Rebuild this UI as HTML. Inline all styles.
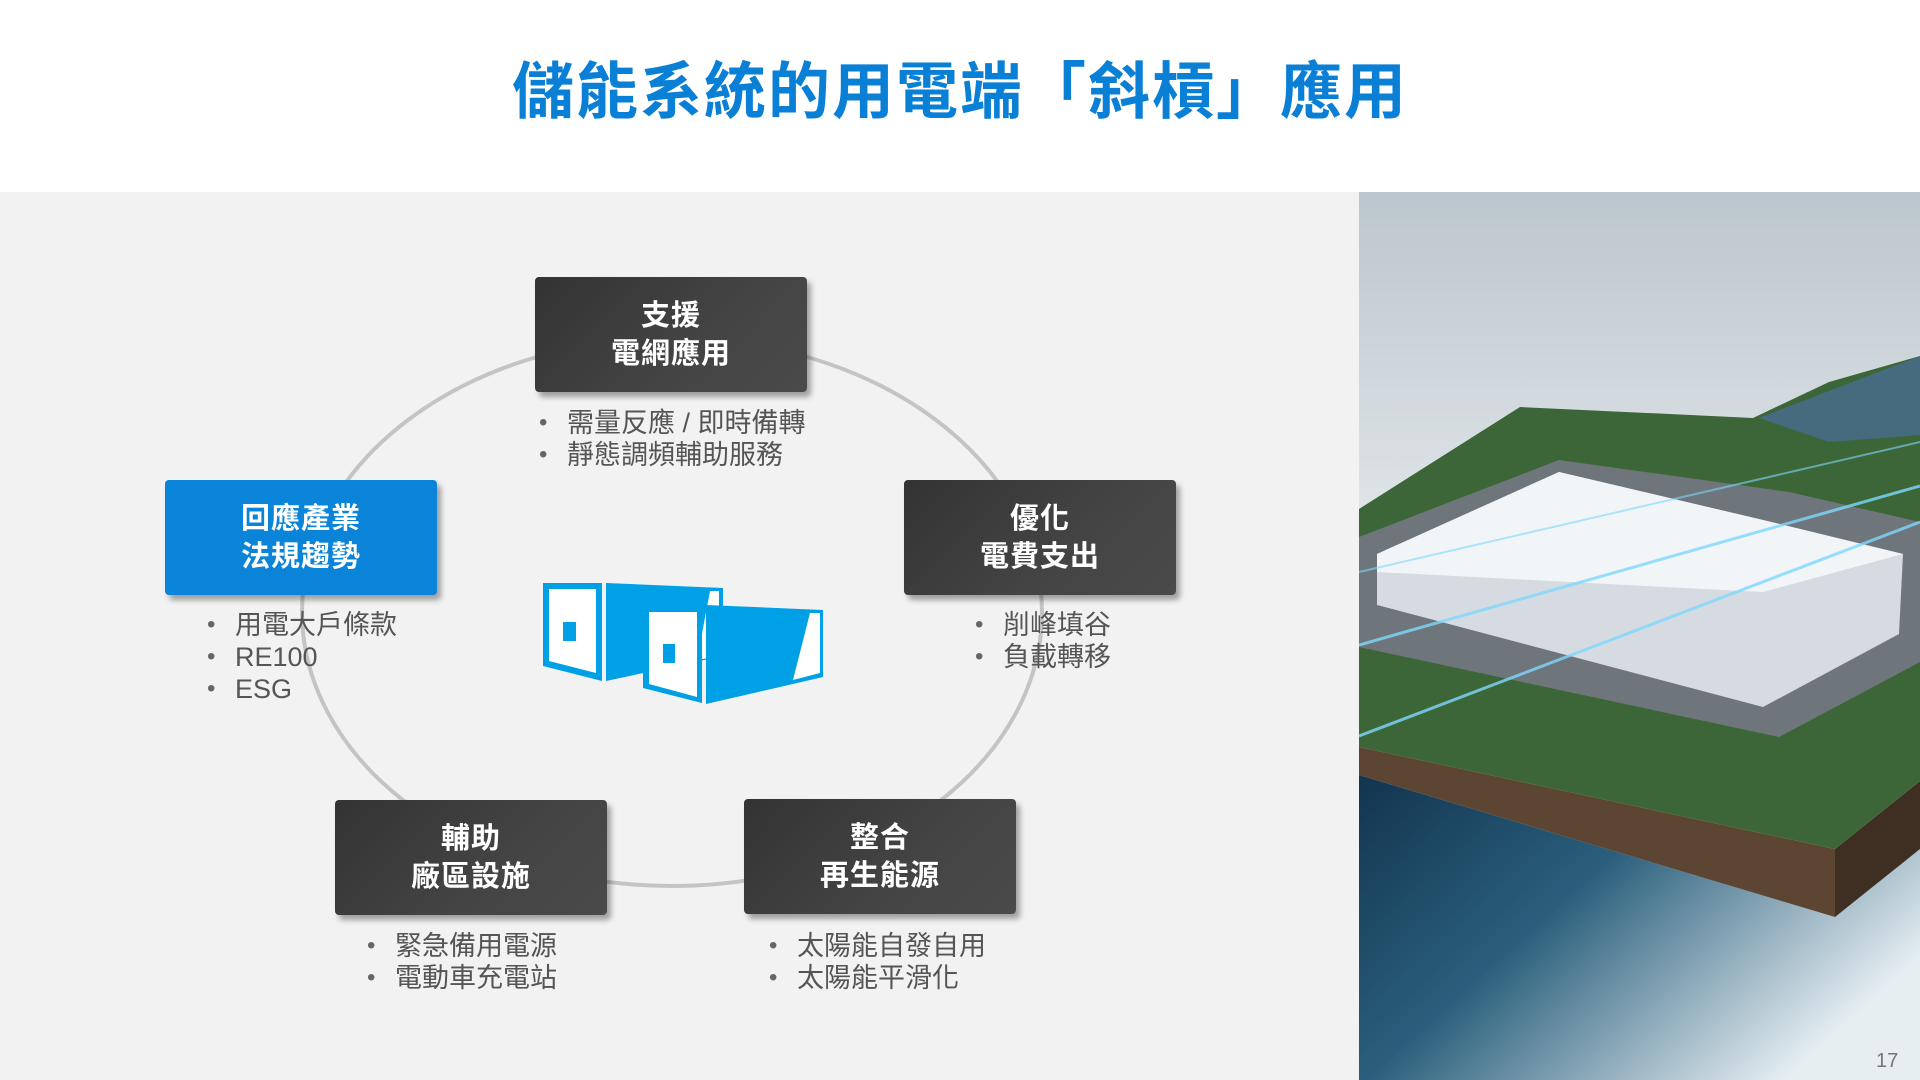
<!DOCTYPE html>
<html><head><meta charset="utf-8"><style>
body{margin:0;width:1920px;height:1080px;position:relative;overflow:hidden;background:#fff;font-family:"Liberation Sans","Noto Sans CJK TC",sans-serif}
.title{position:absolute;left:0;width:1920px;top:53px;text-align:center;font-size:62px;font-weight:bold;color:#0a7fd6;letter-spacing:2px;line-height:80px}
.panel{position:absolute;left:0;top:192px;width:1359px;height:888px;background:#f2f2f2}
.box{position:absolute;width:272px;height:115px;background:linear-gradient(135deg,#333 0%,#444 60%,#4a4a4a 100%);border-radius:4px;box-shadow:4px 5px 6px rgba(0,0,0,.35);color:#fff;font-weight:bold;font-size:29px;line-height:38px;text-align:center;display:flex;align-items:center;justify-content:center;letter-spacing:1px}
.blue{background:#0a84d9}
.ul{position:absolute;font-size:27px;color:#555;line-height:32px}
.ul div{position:relative}
.ul div:before{content:"•";position:absolute;left:-28px;color:#666;font-size:24px}
.pn{position:absolute;left:1876px;top:1050px;font-size:20px;color:#777}
</style></head><body>
<div class="title">儲能系統的用電端「斜槓」應用</div>
<div class="panel"></div>
<svg style="position:absolute;left:0;top:0" width="1359" height="1080">
<ellipse cx="672" cy="612" rx="370" ry="274" fill="none" stroke="#c4c4c4" stroke-width="4"/>
<g fill="#00a0e6">
<polygon points="543,583 602,583 602,681 543,666"/>
<polygon points="549,589 596,589 596,673 549,661" fill="#fff"/>
<rect x="563" y="622" width="13" height="19"/>
<polygon points="606,583 723,588 723,656 606,681"/>
<polygon points="710,591 719,591 719,656 697,660" fill="#fff"/>
<polygon points="643,607 702,607 702,703 643,688"/>
<polygon points="649,612 697,612 697,697 649,684" fill="#fff"/>
<rect x="663" y="644" width="12" height="19"/>
<polygon points="706,605 823,610 823,677 706,704"/>
<polygon points="810,613 820,613 820,673 793,680" fill="#fff"/>
</g>
</svg>
<div class="box" style="left:535px;top:277px">支援<br>電網應用</div>
<div class="box blue" style="left:165px;top:480px">回應產業<br>法規趨勢</div>
<div class="box" style="left:904px;top:480px">優化<br>電費支出</div>
<div class="box" style="left:335px;top:800px">輔助<br>廠區設施</div>
<div class="box" style="left:744px;top:799px">整合<br>再生能源</div>
<div class="ul" style="left:567px;top:407px"><div>需量反應 / 即時備轉</div><div>靜態調頻輔助服務</div></div>
<div class="ul" style="left:235px;top:609px"><div>用電大戶條款</div><div>RE100</div><div>ESG</div></div>
<div class="ul" style="left:1003px;top:609px"><div>削峰填谷</div><div>負載轉移</div></div>
<div class="ul" style="left:395px;top:930px"><div>緊急備用電源</div><div>電動車充電站</div></div>
<div class="ul" style="left:797px;top:930px"><div>太陽能自發自用</div><div>太陽能平滑化</div></div>
<svg style="position:absolute;left:1359px;top:192px" width="561" height="888">
<defs>
<linearGradient id="sky" x1="0" y1="0" x2="0" y2="1"><stop offset="0" stop-color="#bcc6cd"/><stop offset="0.35" stop-color="#dde3e7"/><stop offset="1" stop-color="#eef1f3"/></linearGradient>
<linearGradient id="wat" x1="0" y1="0" x2="1" y2="0.6"><stop offset="0" stop-color="#12344f"/><stop offset="0.45" stop-color="#2a5f7c"/><stop offset="1" stop-color="#e6eef2"/></linearGradient>
</defs>
<rect width="561" height="888" fill="url(#sky)"/>
<polygon points="0,583 476,725 561,657 561,888 0,888" fill="url(#wat)"/>
<polygon points="0,555 476,657 476,725 0,583" fill="#5d4533"/>
<polygon points="476,657 561,589 561,657 476,725" fill="#3f2e22"/>
<polygon points="0,317 161,215 394,226 470,190 561,164 561,589 476,657 0,555" fill="#3d6638"/>
<polygon points="400,226 561,164 561,243 470,250" fill="#4a6e9e" opacity=".7"/>
<polygon points="0,345 200,268 430,300 561,330 561,470 420,545 0,455" fill="#6f767b"/>
<polygon points="18,362 200,280 404,328 544,362 540,442 404,515 18,413" fill="#d5dbe0"/>
<polygon points="18,362 200,280 404,328 544,362 404,400 18,380" fill="#f2f5f8"/>
<line x1="0" y1="453" x2="561" y2="294" stroke="#7fd8ff" stroke-width="3" opacity=".8"/>
<line x1="0" y1="544" x2="561" y2="330" stroke="#7fd8ff" stroke-width="3" opacity=".8"/>
<line x1="0" y1="380" x2="561" y2="250" stroke="#7fd8ff" stroke-width="2" opacity=".6"/>
</svg>
<div class="pn">17</div>
</body></html>
